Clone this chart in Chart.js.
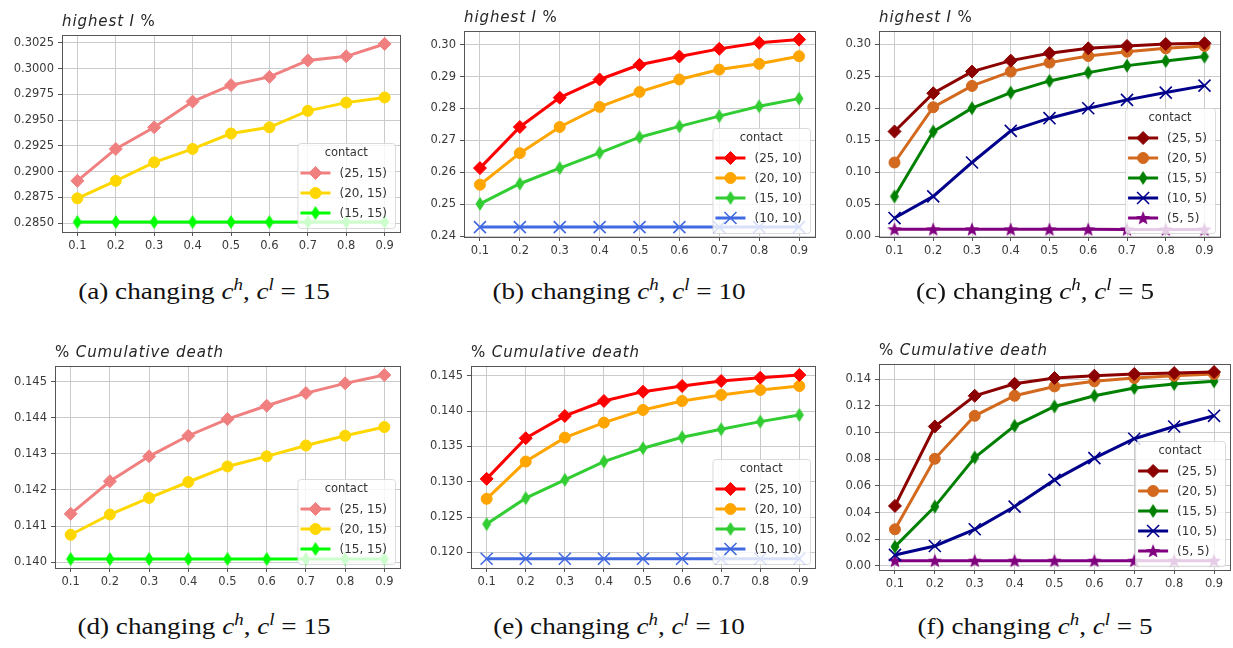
<!DOCTYPE html>
<html>
<head>
<meta charset="utf-8">
<script src="https://cdn.jsdelivr.net/npm/chart.js@4.4.0/dist/chart.umd.min.js"></script>
<style>
  body { margin: 0; background: #fff; }
  #page { position: relative; width: 1233px; height: 648px; overflow: hidden; background: #fff; }
  canvas { position: absolute; }
  .ttl { position: absolute; font: 15px "DejaVu Sans"; line-height: 18px; color: #262626; white-space: nowrap; letter-spacing: 0.9px; }
  .ttl i { font-style: italic; }
  .cap { position: absolute; width: 420px; text-align: center; font: 23px "Liberation Serif", "Times New Roman", serif; line-height: 24px; color: #111; white-space: nowrap; transform: scaleX(1.18); }
  .cap i { font-style: italic; }
  .cap sup { font-size: 16px; line-height: 0; vertical-align: 9px; font-style: italic; }
</style>
</head>
<body>
<div id="page"></div>
<script>
// x axis: fraction values
const xValues = [0.1, 0.2, 0.3, 0.4, 0.5, 0.6, 0.7, 0.8, 0.9];
const xTicks = [0.1, 0.2, 0.3, 0.4, 0.5, 0.6, 0.7, 0.8, 0.9];

// (a) highest I %, c^l = 15
const labelsA = ['(25, 15)', '(20, 15)', '(15, 15)'];
const highA25 = [0.2891, 0.2922, 0.2943, 0.2968, 0.2984, 0.2992, 0.3008, 0.3012, 0.3024];
const highA20 = [0.2874, 0.2891, 0.2909, 0.2922, 0.2937, 0.2943, 0.2959, 0.2967, 0.2972];
const highA15 = [0.2851, 0.2851, 0.2851, 0.2851, 0.2851, 0.2851, 0.2851, 0.2851, 0.2851];
const yTicksA = [0.2850, 0.2875, 0.2900, 0.2925, 0.2950, 0.2975, 0.3000, 0.3025];

// (b) highest I %, c^l = 10
const labelsB = ['(25, 10)', '(20, 10)', '(15, 10)', '(10, 10)'];
const highB25 = [0.2613, 0.2742, 0.2834, 0.2891, 0.2937, 0.2963, 0.2987, 0.3006, 0.3016];
const highB20 = [0.2561, 0.2660, 0.2742, 0.2805, 0.2852, 0.2891, 0.2922, 0.2940, 0.2964];
const highB15 = [0.2501, 0.2564, 0.2613, 0.2661, 0.2710, 0.2744, 0.2776, 0.2807, 0.2831];
const highB10 = [0.2428, 0.2428, 0.2428, 0.2428, 0.2428, 0.2428, 0.2428, 0.2428, 0.2428];
const yTicksB = [0.24, 0.25, 0.26, 0.27, 0.28, 0.29, 0.30];

// (c) highest I %, c^l = 5
const labelsC = ['(25, 5)', '(20, 5)', '(15, 5)', '(10, 5)', '(5, 5)'];
const highC25 = [0.1638, 0.2236, 0.2574, 0.2745, 0.2860, 0.2937, 0.2974, 0.3005, 0.3016];
const highC20 = [0.1154, 0.2017, 0.2350, 0.2574, 0.2714, 0.2818, 0.2885, 0.2937, 0.2974];
const highC15 = [0.0624, 0.1638, 0.2002, 0.2246, 0.2428, 0.2558, 0.2667, 0.2740, 0.2808];
const highC10 = [0.0286, 0.0624, 0.1154, 0.1648, 0.1846, 0.2002, 0.2132, 0.2246, 0.2355];
const highC5 = [0.0112, 0.0111, 0.0111, 0.0110, 0.0110, 0.0110, 0.0109, 0.0109, 0.0108];
const yTicksC = [0.00, 0.05, 0.10, 0.15, 0.20, 0.25, 0.30];

// (d) % cumulative death, c^l = 15
const deathD25 = [0.14134, 0.14224, 0.14293, 0.14350, 0.14396, 0.14433, 0.14468, 0.14495, 0.14518];
const deathD20 = [0.14076, 0.14132, 0.14178, 0.14222, 0.14265, 0.14293, 0.14323, 0.14350, 0.14374];
const deathD15 = [0.14009, 0.14009, 0.14009, 0.14009, 0.14009, 0.14009, 0.14009, 0.14009, 0.14009];
const yTicksD = [0.140, 0.141, 0.142, 0.143, 0.144, 0.145];

// (e) % cumulative death, c^l = 10
const deathE25 = [0.1304, 0.13615, 0.1393, 0.14142, 0.14274, 0.14354, 0.14425, 0.14472, 0.1451];
const deathE20 = [0.12758, 0.13285, 0.13624, 0.13836, 0.14015, 0.14142, 0.14227, 0.14298, 0.14354];
const deathE15 = [0.1240, 0.12767, 0.13026, 0.13285, 0.13474, 0.13629, 0.13742, 0.1385, 0.13944];
const deathE10 = [0.1191, 0.1191, 0.1191, 0.1191, 0.1191, 0.1191, 0.1191, 0.1191, 0.1191];
const yTicksE = [0.120, 0.125, 0.130, 0.135, 0.140, 0.145];

// (f) % cumulative death, c^l = 5
const deathF25 = [0.0450, 0.1045, 0.1275, 0.1365, 0.1408, 0.1425, 0.1438, 0.1445, 0.1453];
const deathF20 = [0.0275, 0.0803, 0.1125, 0.1275, 0.1345, 0.1383, 0.1408, 0.1425, 0.1438];
const deathF15 = [0.0145, 0.0445, 0.0813, 0.1050, 0.1195, 0.1275, 0.1333, 0.1363, 0.1383];
const deathF10 = [0.0083, 0.0150, 0.0275, 0.0445, 0.0645, 0.0808, 0.0953, 0.1045, 0.1125];
const deathF5 = [0.0040, 0.0040, 0.0040, 0.0040, 0.0040, 0.0040, 0.0040, 0.0040, 0.0040];
const yTicksF = [0.00, 0.02, 0.04, 0.06, 0.08, 0.10, 0.12, 0.14];

const colors15 = ['#f08080', '#ffd700', '#00ff00'];
const colors10 = ['#ff0000', '#ffa500', '#32cd32', '#4169e1'];
const colors5 = ['#8b0000', '#d2691e', '#008000', '#00008b', '#800080'];
const markers = ['D', 'o', 'd', 'x', '*'];

// small canvases for markers chart.js doesn't have (thin diamond, filled star)
function markerImage(kind, color) {
  const c = document.createElement('canvas');
  c.width = 16; c.height = 16;
  const g = c.getContext('2d');
  g.fillStyle = color;
  g.beginPath();
  if (kind === 'd') {
    g.moveTo(8, 1); g.lineTo(12.5, 8); g.lineTo(8, 15); g.lineTo(3.5, 8);
  } else {
    for (let i = 0; i < 10; i++) {
      const r = i % 2 ? 3.2 : 7.5;
      const a = -Math.PI / 2 + i * Math.PI / 5;
      g.lineTo(8 + r * Math.cos(a), 8.5 + r * Math.sin(a));
    }
  }
  g.closePath();
  g.fill();
  return c;
}

function makeDataset(label, values, color, marker) {
  let style = 'rectRot', radius = 6.5, bw = 1;
  if (marker === 'o') { style = 'circle'; radius = 5.5; }
  if (marker === 'd' || marker === '*') { style = markerImage(marker, color); radius = 6; }
  if (marker === 'x') { style = 'crossRot'; radius = 8.5; bw = 1.6; }
  return {
    label: label,
    data: xValues.map((x, i) => ({ x: x, y: values[i] })),
    borderColor: color,
    backgroundColor: color,
    borderWidth: 3,
    pointStyle: style,
    pointRadius: radius,
    pointBackgroundColor: color,
    pointBorderColor: color,
    pointBorderWidth: bw,
    tension: 0,
    clip: 10
  };
}

// frame around the plot area + matplotlib-like legend in the lower right corner
const framePlugin = {
  id: 'frameLegend',
  afterDatasetsDraw(chart) {
    const ctx = chart.ctx;
    const a = chart.chartArea;
    ctx.save();
    ctx.strokeStyle = '#555';
    ctx.lineWidth = 1;
    ctx.strokeRect(Math.round(a.left) + 0.5, Math.round(a.top) + 0.5, Math.round(a.right - a.left), Math.round(a.bottom - a.top));

    const sets = chart.data.datasets;
    ctx.font = '12px "DejaVu Sans"';
    const labelW = Math.max(...sets.map(d => ctx.measureText(d.label).width));
    const w = 3 + 30 + 9 + labelW + 8;
    const h = 25 + 20 * sets.length;
    const x = a.right - 5 - w;
    const y = a.bottom - 4 - h;
    ctx.fillStyle = 'rgba(255,255,255,0.8)';
    ctx.strokeStyle = 'rgba(210,210,210,0.8)';
    ctx.beginPath();
    ctx.roundRect(x + 0.5, y + 0.5, w, h, 3);
    ctx.fill();
    ctx.stroke();

    ctx.fillStyle = '#333';
    ctx.textBaseline = 'middle';
    ctx.textAlign = 'center';
    ctx.font = '11.5px "DejaVu Sans"';
    ctx.fillText('contact', x + w / 2, y + 10);
    ctx.textAlign = 'left';
    ctx.font = '12px "DejaVu Sans"';
    sets.forEach((d, i) => {
      const cy = y + 30 + 20 * i;
      ctx.strokeStyle = d.borderColor;
      ctx.lineWidth = 3;
      ctx.beginPath();
      ctx.moveTo(x + 3, cy);
      ctx.lineTo(x + 33, cy);
      ctx.stroke();
      ctx.fillStyle = d.pointBackgroundColor;
      ctx.strokeStyle = d.pointBorderColor;
      ctx.lineWidth = d.pointBorderWidth;
      Chart.helpers.drawPoint(ctx, { pointStyle: d.pointStyle, rotation: 0, radius: d.pointRadius, borderWidth: d.pointBorderWidth }, x + 18, cy);
      ctx.fillStyle = '#333';
      ctx.fillText(d.label, x + 42, cy + 0.5);
    });
    ctx.restore();
  }
};

const panels = [
  { frame: [62, 35, 400, 232], range: [0.28413, 0.30327], yTicks: yTicksA, dec: 4, title: 'high', cap: ['a', '15'],
    series: [highA25, highA20, highA15], labels: labelsA, colors: colors15 },
  { frame: [464, 31, 815, 237], range: [0.2397, 0.3043], yTicks: yTicksB, dec: 2, title: 'high', cap: ['b', '10'],
    series: [highB25, highB20, highB15, highB10], labels: labelsB, colors: colors10 },
  { frame: [879, 31, 1220, 237], range: [-0.001, 0.3208], yTicks: yTicksC, dec: 2, title: 'high', cap: ['c', '5'],
    series: [highC25, highC20, highC15, highC10, highC5], labels: labelsC, colors: colors5 },
  { frame: [55, 366, 400, 568], range: [0.13984, 0.14543], yTicks: yTicksD, dec: 3, title: 'death', cap: ['d', '15'],
    series: [deathD25, deathD20, deathD15], labels: labelsA, colors: colors15 },
  { frame: [471, 366, 815, 568], range: [0.11779, 0.14637], yTicks: yTicksE, dec: 3, title: 'death', cap: ['e', '10'],
    series: [deathE25, deathE20, deathE15, deathE10], labels: labelsB, colors: colors10 },
  { frame: [879, 364, 1230, 570], range: [-0.003, 0.1513], yTicks: yTicksF, dec: 2, title: 'death', cap: ['f', '5'],
    series: [deathF25, deathF20, deathF15, deathF10, deathF5], labels: labelsC, colors: colors5 }
];

const capCenters = [204, 619, 1035];
const page = document.getElementById('page');
const PAD_L = 70, PAD_T = 14, PAD_R = 14, AXIS_H = 30;

panels.forEach((p, k) => {
  const [l, t, r, b] = p.frame;
  const canvas = document.createElement('canvas');
  canvas.width = r - l + PAD_L + PAD_R;
  canvas.height = b - t + PAD_T + AXIS_H;
  canvas.style.left = (l - PAD_L) + 'px';
  canvas.style.top = (t - PAD_T) + 'px';
  page.appendChild(canvas);

  const ttl = document.createElement('div');
  ttl.className = 'ttl';
  ttl.innerHTML = p.title === 'high' ? '<i>highest I</i> %' : '% <i>Cumulative death</i>';
  ttl.style.left = l + 'px';
  ttl.style.top = (t - 23) + 'px';
  page.appendChild(ttl);

  const cap = document.createElement('div');
  cap.className = 'cap';
  cap.innerHTML = '(' + p.cap[0] + ') changing <i>c</i><sup>h</sup>, <i>c</i><sup>l</sup> = ' + p.cap[1];
  cap.style.left = (capCenters[k % 3] - 210) + 'px';
  cap.style.top = (k < 3 ? 280 : 615) + 'px';
  page.appendChild(cap);

  const tickFont = { family: 'DejaVu Sans', size: 11.5 };
  new Chart(canvas.getContext('2d'), {
    type: 'line',
    data: {
      datasets: p.series.map((vals, i) => makeDataset(p.labels[i], vals, p.colors[i], markers[i]))
    },
    options: {
      responsive: false,
      animation: false,
      devicePixelRatio: 1,
      layout: { padding: { top: PAD_T, right: PAD_R, left: 0, bottom: 0 } },
      plugins: { legend: { display: false }, tooltip: { enabled: false } },
      scales: {
        x: {
          type: 'linear',
          min: 0.06,
          max: 0.94,
          afterBuildTicks: s => { s.ticks = xTicks.map(v => ({ value: v })); },
          afterFit: s => { s.height = AXIS_H; },
          grid: { color: '#cbcbcb', tickColor: '#555', tickLength: 4 },
          border: { display: false },
          ticks: { font: tickFont, color: '#3a3a3a', padding: 3, maxRotation: 0, callback: v => v.toFixed(1) }
        },
        y: {
          type: 'linear',
          min: p.range[0],
          max: p.range[1],
          afterBuildTicks: s => { s.ticks = p.yTicks.map(v => ({ value: v })); },
          afterFit: s => { s.width = PAD_L; },
          grid: { color: '#cbcbcb', tickColor: '#555', tickLength: 4 },
          border: { display: false },
          ticks: { font: tickFont, color: '#3a3a3a', padding: 4, callback: v => v.toFixed(p.dec) }
        }
      }
    },
    plugins: [framePlugin]
  });
});
</script>
</body>
</html>
